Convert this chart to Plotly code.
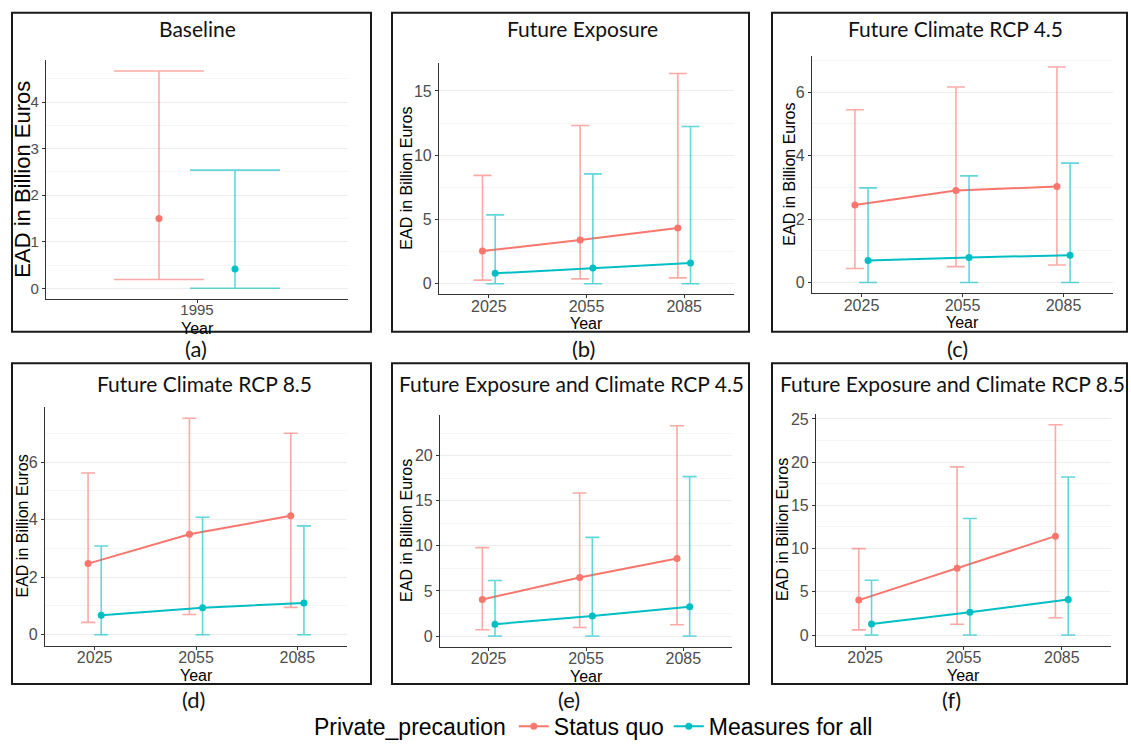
import plotly.graph_objects as go

W, H = 1131, 748

# ---------------- data ----------------
years_a = ["1995"]
years = ["2025", "2055", "2085"]

# (a) Baseline
a_sq_mean = [1.50]
a_sq_low = [0.19]
a_sq_high = [4.67]
a_mfa_mean = [0.415]
a_mfa_low = [0.0]
a_mfa_high = [2.54]

# (b) Future Exposure
b_sq_mean = [2.54, 3.40, 4.34]
b_sq_low = [0.28, 0.38, 0.46]
b_sq_high = [8.43, 12.31, 16.35]
b_mfa_mean = [0.81, 1.22, 1.62]
b_mfa_low = [0.0, 0.0, 0.0]
b_mfa_high = [5.36, 8.55, 12.23]

# (c) Future Climate RCP 4.5
c_sq_mean = [2.44, 2.90, 3.02]
c_sq_low = [0.44, 0.50, 0.55]
c_sq_high = [5.44, 6.16, 6.79]
c_mfa_mean = [0.69, 0.79, 0.86]
c_mfa_low = [0.0, 0.0, 0.0]
c_mfa_high = [2.98, 3.36, 3.76]

# (d) Future Climate RCP 8.5
d_sq_mean = [2.47, 3.49, 4.13]
d_sq_low = [0.43, 0.70, 0.95]
d_sq_high = [5.62, 7.52, 7.00]
d_mfa_mean = [0.68, 0.94, 1.10]
d_mfa_low = [0.0, 0.0, 0.0]
d_mfa_high = [3.08, 4.08, 3.78]

# (e) Future Exposure and Climate RCP 4.5
e_sq_mean = [4.04, 6.48, 8.60]
e_sq_low = [0.69, 0.95, 1.24]
e_sq_high = [9.80, 15.85, 23.30]
e_mfa_mean = [1.31, 2.22, 3.24]
e_mfa_low = [0.0, 0.0, 0.0]
e_mfa_high = [6.16, 10.93, 17.67]

# (f) Future Exposure and Climate RCP 8.5
f_sq_mean = [4.04, 7.74, 11.44]
f_sq_low = [0.60, 1.25, 2.00]
f_sq_high = [10.00, 19.45, 24.32]
f_mfa_mean = [1.28, 2.64, 4.12]
f_mfa_low = [0.0, 0.0, 0.0]
f_mfa_high = [6.34, 13.48, 18.28]

titles = ["Baseline", "Future Exposure", "Future Climate RCP 4.5",
          "Future Climate RCP 8.5", "Future Exposure and Climate RCP 4.5",
          "Future Exposure and Climate RCP 8.5"]
panel_labels = ["(a)", "(b)", "(c)", "(d)", "(e)", "(f)"]
group_names = ["Status quo", "Measures for all"]
legend_title = "Private_precaution"
y_title = "EAD in Billion Euros"
x_title = "Year"

# ---------------- styling / layout ----------------
RED = "#F8766D"
TEAL = "#00BFC4"
RED_EB = "rgba(248,118,109,0.62)"
TEAL_EB = "rgba(0,191,196,0.62)"
TITLE_FONT = "Lato, Open Sans, sans-serif"

panels = [
    dict(cats=years_a, sq=(a_sq_mean, a_sq_low, a_sq_high), mfa=(a_mfa_mean, a_mfa_low, a_mfa_high),
         dom_x=(46, 348), dom_y=(57, 300), box=(12, 9, 371, 333), xr=(-0.6, 0.6), dodge=0.151,
         cap=45, dtick=1, ytitle_x=23, ytitle_size=22, tick_size=15,
         title_pos=(197, 24.5), label_pos=(196, 350)),
    dict(cats=years, sq=(b_sq_mean, b_sq_low, b_sq_high), mfa=(b_mfa_mean, b_mfa_low, b_mfa_high),
         dom_x=(439, 734), dom_y=(60, 295), box=(392, 9, 749, 333), xr=(-0.51, 2.51), dodge=0.065,
         cap=9, dtick=5, ytitle_x=407, ytitle_size=16, tick_size=16,
         title_pos=(582, 24.5), label_pos=(583, 350)),
    dict(cats=years, sq=(c_sq_mean, c_sq_low, c_sq_high), mfa=(c_mfa_mean, c_mfa_low, c_mfa_high),
         dom_x=(812, 1113), dom_y=(53, 294), box=(772, 9, 1127, 333), xr=(-0.49, 2.49), dodge=0.065,
         cap=9, dtick=2, ytitle_x=790, ytitle_size=16, tick_size=16,
         title_pos=(955, 24.5), label_pos=(957, 350)),
    dict(cats=years, sq=(d_sq_mean, d_sq_low, d_sq_high), mfa=(d_mfa_mean, d_mfa_low, d_mfa_high),
         dom_x=(45, 347), dom_y=(410, 652), box=(12, 365, 371, 691), xr=(-0.49, 2.49), dodge=0.065,
         cap=7, dtick=2, ytitle_x=22, ytitle_size=16, tick_size=16,
         title_pos=(204, 386), label_pos=(193, 707)),
    dict(cats=years, sq=(e_sq_mean, e_sq_low, e_sq_high), mfa=(e_mfa_mean, e_mfa_low, e_mfa_high),
         dom_x=(440, 732), dom_y=(418, 653), box=(392, 365, 749, 691), xr=(-0.5, 2.5), dodge=0.065,
         cap=7, dtick=5, ytitle_x=407, ytitle_size=16, tick_size=16,
         title_pos=(571, 386), label_pos=(569, 707)),
    dict(cats=years, sq=(f_sq_mean, f_sq_low, f_sq_high), mfa=(f_mfa_mean, f_mfa_low, f_mfa_high),
         dom_x=(816, 1111), dom_y=(417, 652), box=(772, 365, 1127, 691), xr=(-0.5, 2.5), dodge=0.065,
         cap=7, dtick=5, ytitle_x=783, ytitle_size=16, tick_size=16,
         title_pos=(952, 386), label_pos=(951, 707)),
]


def px_x(v):
    return v / W


def px_y(v):
    return 1 - v / H


fig = go.Figure()
layout = dict(
    width=W, height=H, margin=dict(l=0, r=0, t=0, b=0),
    paper_bgcolor="white", plot_bgcolor="white",
    font=dict(family="Liberation Sans, Arial, sans-serif", color="black"),
    showlegend=True,
)
shapes = []
annotations = []

for i, p in enumerate(panels):
    k = "" if i == 0 else str(i + 1)
    xa, ya = "x" + k, "y" + k
    n = len(p["cats"])
    idx = list(range(n))
    highs = p["sq"][2] + p["mfa"][2]
    ymax = max(highs)
    yr = (-0.05 * ymax, ymax * 1.05)

    for g, (vals, col, ebc, off) in enumerate([
        (p["sq"], RED, RED_EB, -p["dodge"]),
        (p["mfa"], TEAL, TEAL_EB, p["dodge"]),
    ]):
        mean, low, high = vals
        fig.add_trace(go.Scatter(
            x=[j + off for j in idx], y=mean,
            mode="lines+markers",
            name=group_names[g], legendgroup=group_names[g], showlegend=(i == 0),
            line=dict(color=col, width=2),
            marker=dict(color=col, size=7),
            error_y=dict(type="data", symmetric=False,
                         array=[h - m for h, m in zip(high, mean)],
                         arrayminus=[m - l for m, l in zip(mean, low)],
                         color=ebc, thickness=1.6, width=p["cap"]),
            xaxis=xa, yaxis=ya,
        ))

    layout["xaxis" + k] = dict(
        domain=[px_x(p["dom_x"][0]), px_x(p["dom_x"][1])], anchor=ya,
        range=list(p["xr"]), tickmode="array", tickvals=idx, ticktext=p["cats"],
        showgrid=False, zeroline=False, showline=True, linecolor="#333333", linewidth=1.2,
        ticks="outside", ticklen=3, tickcolor="#333333", ticklabelstandoff=-6,
        tickfont=dict(size=p["tick_size"], color="#4D4D4D"), fixedrange=True,
    )
    layout["yaxis" + k] = dict(
        domain=[px_y(p["dom_y"][1]), px_y(p["dom_y"][0])], anchor=xa,
        range=list(yr), dtick=p["dtick"], tick0=0,
        showgrid=True, gridcolor="#EDEDED", gridwidth=1,
        minor=dict(dtick=p["dtick"] / 2, showgrid=True, gridcolor="#F5F5F5", gridwidth=1),
        zeroline=False, showline=True, linecolor="#333333", linewidth=1.2,
        ticks="outside", ticklen=3, tickcolor="#333333",
        tickfont=dict(size=p["tick_size"], color="#4D4D4D"), fixedrange=True,
    )

    bx0, by0, bx1, by1 = p["box"]
    shapes.append(dict(type="rect", xref="paper", yref="paper",
                       x0=px_x(bx0), x1=px_x(bx1), y0=px_y(by1), y1=px_y(by0),
                       line=dict(color="#1A1A1A", width=2), fillcolor="rgba(0,0,0,0)"))
    # panel title
    annotations.append(dict(text=titles[i], xref="paper", yref="paper",
                            x=px_x(p["title_pos"][0]), y=px_y(p["title_pos"][1]),
                            xanchor="center", yanchor="middle",
                            showarrow=False, font=dict(family=TITLE_FONT, size=21, color="#111111")))
    # panel label below box
    annotations.append(dict(text=panel_labels[i], xref="paper", yref="paper",
                            x=px_x(p["label_pos"][0]), y=px_y(p["label_pos"][1]),
                            xanchor="center", yanchor="middle",
                            showarrow=False, font=dict(family=TITLE_FONT, size=22, color="#111111")))
    # y-axis title
    annotations.append(dict(text=y_title, xref="paper", yref="paper", textangle=-90,
                            x=px_x(p["ytitle_x"]), y=px_y((p["dom_y"][0] + p["dom_y"][1]) / 2),
                            xanchor="center", yanchor="middle", showarrow=False,
                            font=dict(size=p["ytitle_size"], color="black")))
    # x-axis title
    annotations.append(dict(text=x_title, xref="paper", yref="paper",
                            x=px_x((p["dom_x"][0] + p["dom_x"][1]) / 2), y=px_y(p["dom_y"][1] + 30),
                            xanchor="center", yanchor="middle", showarrow=False,
                            font=dict(size=16, color="black")))

layout["shapes"] = shapes
layout["annotations"] = annotations
layout["legend"] = dict(
    orientation="h", x=px_x(312), xanchor="left", y=px_y(734), yanchor="middle",
    title=dict(text=legend_title, font=dict(size=23, color="black")),
    font=dict(size=23, color="black"), bgcolor="rgba(0,0,0,0)",
    itemwidth=30, tracegroupgap=0,
)
fig.update_layout(**layout)
fig.write_html("out.html", config={"displayModeBar": False},
               post_script="document.body.style.margin='0';document.body.style.overflow='hidden';")
